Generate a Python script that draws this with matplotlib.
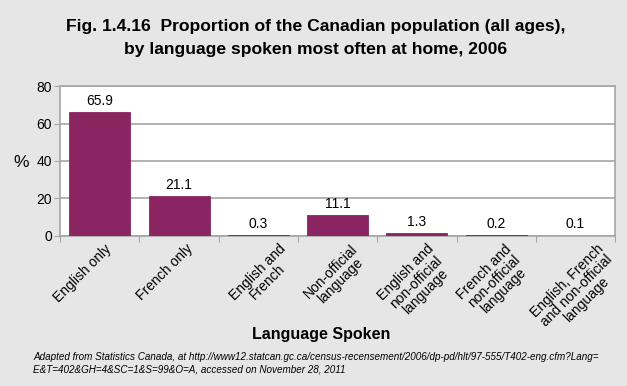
import numpy as np
import matplotlib.pyplot as plt
from matplotlib.transforms import ScaledTranslation

plt.rcParams['font.family'] = ['Liberation Sans', 'DejaVu Sans']

categories = ["English only", "French only", "English and\nFrench", "Non-official\nlanguage",
              "English and\nnon-official\nlanguage", "French and\nnon-official\nlanguage",
              "English, French\nand non-official\nlanguage"]
values = [65.9, 21.1, 0.3, 11.1, 1.3, 0.2, 0.1]
yticks = [0, 20, 40, 60, 80]

# label nudges in pixels (Excel-like placement of rotated labels)
label_dx = [4, 7, 20, 13, 10, 8, 21]

bg = "#e6e6e6"
bar_color = "#8b2562"
grid_color = "#a6a6a6"

fig = plt.figure(figsize=(6.27, 3.86), dpi=100, facecolor=bg)
ax = fig.add_axes([0.096, 0.389, 0.885, 0.388])
ax.set_facecolor("white")

x = np.arange(len(categories))
ax.bar(x, values, width=0.77, color=bar_color, edgecolor=bar_color, linewidth=0.6, zorder=3)
for xi, v in zip(x, values):
    ax.text(xi, v + 2.3, f"{v}", ha="center", va="bottom", fontsize=10, zorder=4)

ax.set_xlim(-0.5, len(categories) - 0.5)
ax.set_ylim(0, 80)
ax.set_yticks(yticks)
ax.tick_params(axis="y", labelsize=10, length=4, color=grid_color, pad=2)
ax.grid(axis="y", color=grid_color, linewidth=1.2, zorder=0)

ax.set_xticks(np.arange(len(categories) + 1) - 0.5)
ax.set_xticklabels([])
ax.tick_params(axis="x", length=4, color=grid_color)

trans = ax.get_xaxis_transform()
for xi, lab, dx in zip(x, categories, label_dx):
    off = ScaledTranslation(dx / 100, -6 / 100, fig.dpi_scale_trans)
    ax.text(xi, 0, lab, transform=trans + off, rotation=45, rotation_mode="anchor",
            ha="right", va="top", multialignment="center", fontsize=10,
            linespacing=0.95, clip_on=False)

for s in ax.spines.values():
    s.set_color(grid_color)
    s.set_linewidth(1.2)

fig.text(13 / 627, 1 - 163 / 386, "%", fontsize=12.5, ha="left", va="center")
fig.text(0.504, 1 - 19 / 386, "Fig. 1.4.16  Proportion of the Canadian population (all ages),\n"
         "by language spoken most often at home, 2006",
         ha="center", va="top", fontsize=12.6, fontweight="bold", linespacing=1.65)
fig.text(321 / 627, 1 - 335 / 386, "Language Spoken", ha="center", va="center",
         fontsize=11.5, fontweight="bold")
fig.text(33 / 627, 1 - 352 / 386,
         "Adapted from Statistics Canada, at http://www12.statcan.gc.ca/census-recensement/2006/dp-pd/hlt/97-555/T402-eng.cfm?Lang=\n"
         "E&T=402&GH=4&SC=1&S=99&O=A, accessed on November 28, 2011",
         ha="left", va="top", fontsize=7.1, style="italic", linespacing=1.25)

fig.savefig("out.png", dpi=100, facecolor=bg)
